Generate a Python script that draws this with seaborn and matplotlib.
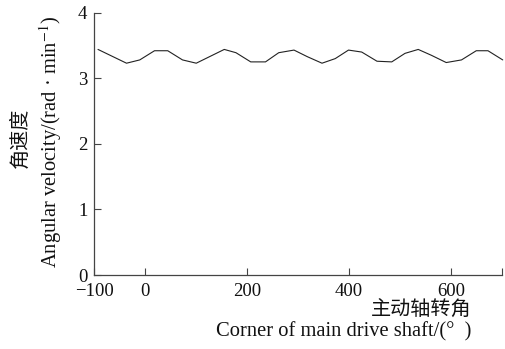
import matplotlib
matplotlib.use("Agg")
import matplotlib.pyplot as plt
import seaborn as sns
import pandas as pd

# angle of main drive shaft (deg) and angular velocity
angle = [-93, -37, -11, 18, 44, 73, 100, 155, 178, 207, 236, 262, 292, 318,
         347, 373, 399, 425, 455, 484, 510, 536, 562, 591, 621, 650, 673, 702]
velocity = [3.44, 3.23, 3.28, 3.42, 3.42, 3.28, 3.23, 3.44, 3.39, 3.25, 3.25,
            3.39, 3.43, 3.33, 3.23, 3.30, 3.43, 3.40, 3.26, 3.25, 3.38, 3.44,
            3.35, 3.24, 3.28, 3.42, 3.42, 3.28]
x_ticks = [-100, 0, 200, 400, 600, 700]
x_tick_labels = ["\u2212100", "0", "200", "400", "600", ""]
y_ticks = [0, 1, 2, 3, 4]

df = pd.DataFrame({"angle": angle, "velocity": velocity})

sns.set_style("ticks")
plt.rcParams["font.family"] = ["Liberation Serif", "Noto Sans CJK SC"]
plt.rcParams["mathtext.fontset"] = "stix"
plt.rcParams["xtick.direction"] = "in"
plt.rcParams["ytick.direction"] = "in"

fig = plt.figure(figsize=(5.05, 3.49), dpi=100)
ax = fig.add_axes([0.187, 0.212, 0.8065, 0.7516])

sns.lineplot(data=df, x="angle", y="velocity", ax=ax, color="#222222",
             linewidth=0.8, clip_on=False)

ax.set_xlim(-100, 700)
ax.set_ylim(0, 4)
ax.set_xticks(x_ticks)
ax.set_xticklabels(x_tick_labels)
ax.set_yticks(y_ticks)
ax.tick_params(labelsize=13.5, length=5, width=0.8, color="#444444",
               labelcolor="#111111")
ax.tick_params(axis="x", pad=5.5)
ax.tick_params(axis="y", pad=5)
for s in ["left", "bottom"]:
    ax.spines[s].set_linewidth(0.9)
    ax.spines[s].set_color("#444444")
sns.despine(ax=ax)
ax.set_xlabel("")
ax.set_ylabel("")

fig.text(0.934, 0.112, "主动轴转角", ha="right", va="center", fontsize=14.5,
         family=["Noto Sans CJK SC"], color="#111111")
fig.text(0.934, 0.048, "Corner of main drive shaft/(°\u2002)", ha="right",
         va="center", fontsize=14.8, color="#111111")
fig.text(0.04, 0.605, "角速度", rotation=90, ha="center", va="center",
         fontsize=14.5, family=["Noto Sans CJK SC"], color="#111111")
fig.text(0.1, 0.592, "Angular velocity/(rad \u00b7 min$^{-1}$)", rotation=90,
         ha="center", va="center", fontsize=14.8, color="#111111")

fig.savefig("out.png", dpi=100)
